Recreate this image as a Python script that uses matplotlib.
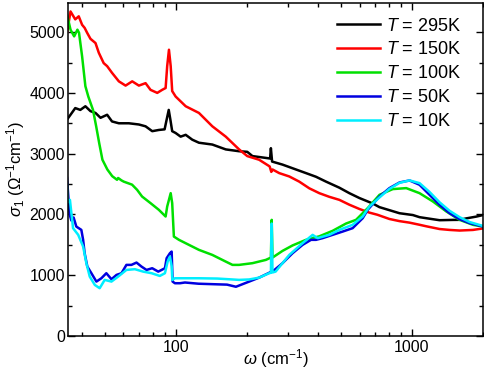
import numpy as np
import matplotlib
matplotlib.use('Agg')
import matplotlib.pyplot as plt
from matplotlib.ticker import MultipleLocator, FixedLocator, NullFormatter

plt.rcParams['font.family'] = ['Liberation Sans', 'DejaVu Sans']
plt.rcParams['mathtext.fontset'] = 'custom'
plt.rcParams['mathtext.rm'] = 'Liberation Sans'
plt.rcParams['mathtext.it'] = 'Liberation Sans:italic'

# optical conductivity sigma_1 (1/(Ohm cm)) vs frequency (cm^-1)
w_295 = [34.7, 35.9, 37.6, 39.5, 41.5, 43.6, 45.8, 48.1, 51.3, 53.8, 57.5, 63.4, 69.9,
         74.6, 79.6, 84.9, 89.8, 91.5, 93.5, 95.0, 96.7, 100, 105, 110.3, 117.6, 125.5,
         143, 163, 185.6, 201, 211.4, 240.9, 251, 253, 256, 283.3, 312.5, 356.2, 392.6,
         432.9, 493, 543.5, 599.3, 682.6, 728.6, 803.3, 885.7, 1009, 1077, 1150, 1309,
         1492, 1591, 1699, 1875, 2000]
s_295 = [3560, 3640, 3750, 3720, 3780, 3700, 3670, 3590, 3640, 3530, 3500, 3500, 3480,
         3450, 3370, 3390, 3400, 3550, 3720, 3560, 3370, 3340, 3280, 3310, 3230, 3180,
         3150, 3070, 3040, 3030, 2960, 2930, 2920, 3090, 2870, 2820, 2760, 2680, 2620,
         2540, 2440, 2350, 2270, 2180, 2120, 2070, 2020, 1990, 1955, 1938, 1905,
         1910, 1911, 1935, 1965, 1990]

w_150 = [34.7, 35.9, 37.6, 38.9, 40.2, 41.2, 42.2, 43.6, 45.8, 47.3, 49.6, 51.3, 53.8,
         57.5, 61.4, 65.5, 69.9, 74.6, 78.3, 83.6, 87.7, 90.7, 92.1, 93.7, 95.3, 96.7,
         100, 110.3, 125.5, 143, 163, 185.6, 201, 225.6, 250, 254, 257, 274.4, 302.6,
         333.5, 367.8, 405.5, 447, 493, 543.5, 599.3, 660.8, 714, 803.3, 885.7, 976.6,
         1076.8, 1150, 1309, 1443, 1591, 1813, 2000]
s_150 = [4990, 5340, 5210, 5260, 5120, 5070, 4990, 4890, 4820, 4660, 4490, 4440, 4330,
         4190, 4120, 4190, 4120, 4160, 4050, 4000, 4050, 4080, 4440, 4710, 4440, 4030,
         3940, 3780, 3670, 3450, 3280, 3070, 2960, 2900, 2790, 2700, 2740, 2680, 2625,
         2540, 2430, 2350, 2290, 2240, 2160, 2090, 2030, 1995, 1925, 1890, 1865,
         1830, 1805, 1760, 1745, 1735, 1745, 1770]

w_100 = [34.7, 35.9, 37.2, 38.4, 39.0, 40.2, 41.5, 42.7, 44.7, 46.1, 47.5, 49.0, 51.4,
         53.9, 56.5, 57.1, 59.0, 60.3, 65.4, 68.7, 72.1, 78.3, 84.9, 90.7, 92.1, 95.3,
         96.7, 98.3, 103.3, 113.9, 125.5, 143, 163, 174, 185.6, 211.4, 240.9, 253,
         255, 257, 283.3, 312.5, 356, 405.5, 461.6, 526, 580, 650, 729, 830, 946,
         1077, 1227, 1399, 1591, 1813, 2000]
s_100 = [5290, 5040, 4930, 5040, 4990, 4600, 4110, 3940, 3720, 3450, 3170, 2900, 2740,
         2630, 2570, 2600, 2560, 2540, 2490, 2405, 2295, 2186, 2076, 1966, 2130, 2350,
         2186, 1636, 1582, 1499, 1417, 1334, 1224, 1170, 1170, 1198, 1252, 1290,
         1911, 1290, 1400, 1490, 1582, 1640, 1730, 1850, 1911, 2104, 2323, 2417, 2433,
         2350, 2213, 2048, 1911, 1829, 1801]

w_50 = [34.7, 35.2, 35.6, 36.2, 37.0, 38.0, 39.9, 40.6, 41.2, 42.3, 44.0, 46.2, 48.5,
        50.9, 53.5, 56.2, 59.0, 61.9, 65.0, 68.3, 71.7, 75.3, 79.6, 84.4, 90.1, 91.6,
        94.6, 96.2, 97.1, 99.3, 104.3, 109.5, 125, 150, 165, 180, 204.7, 225.6, 248.9,
        262, 283.3, 312.5, 344.5, 374, 392.6, 418.8, 461.6, 509, 561, 619, 650, 729,
        803, 886, 977, 1077, 1187, 1309, 1443, 1591, 1754, 2000]
s_50 = [2600, 2250, 2000, 1900, 1950, 1800, 1746, 1582, 1362, 1142, 1033, 895, 950,
        1033, 934, 1005, 1033, 1170, 1170, 1208, 1142, 1087, 1115, 1059, 1115, 1280,
        1362, 1389, 895, 868, 868, 880, 860, 850, 845, 810, 895, 960, 1040,
        1087, 1198, 1362, 1499, 1582, 1582, 1610, 1664, 1718, 1774, 1938, 2076, 2295,
        2433, 2526, 2559, 2488, 2323, 2158, 2021, 1922, 1857, 1801]

w_10 = [34.7, 35.0, 35.7, 36.8, 38.7, 40.6, 41.9, 43.3, 45.5, 47.7, 50.1, 53.5, 57.1,
        61.9, 67.2, 72.9, 79.1, 85.7, 90.1, 92.5, 94.6, 96.2, 96.8, 99.3, 110, 125,
        150, 174, 185.6, 204.7, 225.6, 248.9, 253, 255, 257, 265, 302.6, 344.5, 380,
        399, 447, 493, 561, 619, 661, 729, 803, 886, 977, 1077, 1187, 1309, 1443,
        1591, 1754, 2000]
s_10 = [2500, 2200, 2240, 1774, 1664, 1471, 1198, 977, 840, 786, 923, 895, 977,
        1087, 1099, 1059, 1033, 988, 1033, 1224, 1306, 1150, 923, 950, 950, 950,
        945, 930, 923, 930, 960, 1033, 1040, 1850, 1045, 1060, 1334, 1527, 1664,
        1610, 1664, 1746, 1829, 1966, 2130, 2280, 2420, 2520, 2560, 2515, 2370, 2200, 2060,
        1955, 1875, 1810]

series = [
    (w_295, s_295, 'black', '295K'),
    (w_150, s_150, 'red', '150K'),
    (w_100, s_100, '#00e000', '100K'),
    (w_50, s_50, '#0000e0', '50K'),
    (w_10, s_10, '#00eeff', '10K'),
]

fig = plt.figure(figsize=(4.85, 3.68), dpi=100)
ax = fig.add_axes([0.140, 0.087, 0.856, 0.905])

for w, s, c, lab in series:
    ax.plot(w, s, color=c, lw=1.8, label=r'$T$ = ' + lab)

ax.set_xscale('log')
ax.set_xlim(35, 2000)
ax.set_ylim(0, 5480)
ax.xaxis.set_major_locator(FixedLocator([100, 1000]))
ax.xaxis.set_major_formatter(plt.FixedFormatter(['100', '1000']))
ax.xaxis.set_minor_locator(FixedLocator([40, 50, 60, 70, 80, 90, 200, 300, 400, 500,
                                         600, 700, 800, 900, 2000]))
ax.xaxis.set_minor_formatter(NullFormatter())
ax.yaxis.set_major_locator(MultipleLocator(1000))
ax.yaxis.set_minor_locator(MultipleLocator(500))

ax.tick_params(which='both', direction='in', top=True, right=True, labelsize=11.5,
               width=1.0)
ax.tick_params(which='major', length=5, pad=3)
ax.tick_params(which='minor', length=3)
ax.tick_params(axis='y', pad=2)
for sp in ax.spines.values():
    sp.set_linewidth(1.1)

ax.set_xlabel(r'$\omega$ (cm$^{-1}$)', fontsize=12, labelpad=-6)
ax.set_ylabel(r'$\sigma_1$ ($\Omega^{-1}$cm$^{-1}$)', fontsize=12, labelpad=2)

ax.legend(loc='upper left', bbox_to_anchor=(0.648, 0.956), frameon=False,
          fontsize=13, handlelength=2.4, handletextpad=0.3, labelspacing=0.38,
          borderpad=0, borderaxespad=0)

fig.savefig('out.png', dpi=100)
